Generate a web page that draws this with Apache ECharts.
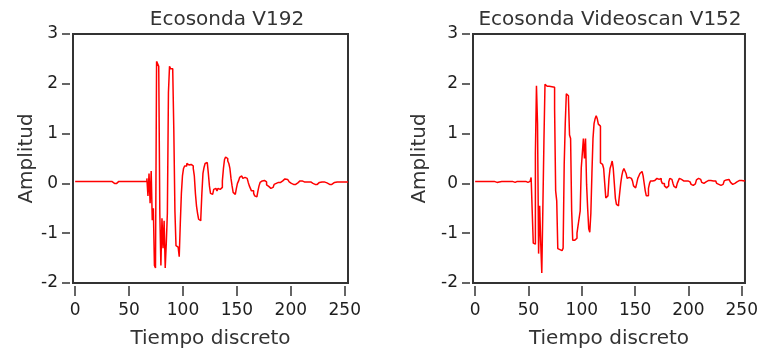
<!DOCTYPE html>
<html>
<head>
<meta charset="utf-8">
<script src="https://cdn.jsdelivr.net/npm/echarts@6/dist/echarts.min.js"></script>
<style>
  html, body { margin: 0; padding: 0; background: #fff; }
  #chart { width: 761px; height: 354px; }
</style>
</head>
<body>
<div id="chart"></div>
<script>
// amplitud por muestra (indice = tiempo discreto)
const ampV192 = [
  0.04, 0.04, 0.04, 0.04, 0.04, 0.04, 0.04, 0.04, 0.04, 0.04,
  0.04, 0.04, 0.04, 0.04, 0.04, 0.04, 0.04, 0.04, 0.04, 0.04,
  0.04, 0.04, 0.04, 0.04, 0.04, 0.04, 0.04, 0.04, 0.04, 0.04,
  0.04, 0.04, 0.04, 0.04, 0.04, 0.04, 0.0, -0.01, -0.01, 0.0,
  0.04, 0.04, 0.04, 0.04, 0.04, 0.04, 0.04, 0.04, 0.04, 0.04,
  0.04, 0.04, 0.04, 0.04, 0.04, 0.04, 0.04, 0.04, 0.04, 0.04,
  0.04, 0.04, 0.04, 0.04, 0.04, 0.04, 0.04, 0.1, -0.25, 0.2,
  -0.4, 0.25, -0.74, -0.5, -1.65, -1.7, 2.45, 2.4, 2.35, -0.6,
  -1.65, -0.7, -1.3, -0.75, -1.7, -1.2, -0.6, 1.83, 2.35, 2.3,
  2.3, 2.25, 1.04, -0.55, -1.25, -1.28, -1.3, -1.47, -0.8, -0.2,
  0.15, 0.3, 0.35, 0.35, 0.4, 0.37, 0.33, 0.38, 0.38, 0.35,
  0.3, 0.15, -0.2, -0.45, -0.6, -0.72, -0.75, -0.7, -0.2, 0.2,
  0.32, 0.4, 0.42, 0.4, 0.2, -0.05, -0.2, -0.22, -0.18, -0.12,
  -0.1, -0.12, -0.15, -0.1, -0.12, -0.12, -0.08, 0.05, 0.3, 0.48,
  0.53, 0.5, 0.45, 0.4, 0.3, 0.1, -0.05, -0.18, -0.22, -0.2,
  -0.1, 0.0, 0.05, 0.12, 0.15, 0.12, 0.1, 0.12, 0.08, 0.1,
  0.07, 0.02, -0.05, -0.1, -0.15, -0.15, -0.2, -0.25, -0.27, -0.25,
  -0.15, -0.05, 0.02, 0.05, 0.08, 0.07, 0.06, 0.03, -0.03, -0.06,
  -0.08, -0.1, -0.1, -0.08, -0.05, -0.02, 0.0, 0.01, 0.02, 0.0,
  0.02, 0.03, 0.05, 0.07, 0.08, 0.09, 0.08, 0.08, 0.06, 0.03,
  0.0, -0.02, -0.03, -0.02, -0.02, -0.01, 0.01, 0.03, 0.05, 0.06,
  0.06, 0.05, 0.04, 0.03, 0.03, 0.03, 0.02, 0.03, 0.03, 0.02,
  0.0, -0.01, -0.02, -0.02, -0.02, 0.0, 0.02, 0.03, 0.03, 0.03,
  0.02, 0.03, 0.03, 0.01, -0.01, -0.02, -0.02, -0.01, -0.02, 0.0,
  0.02, 0.03, 0.03, 0.03, 0.03, 0.03, 0.03, 0.03, 0.03, 0.03,
  0.03, 0.03, 0.03, 0.03
]

const ampV152 = [
  0.04, 0.04, 0.04, 0.04, 0.04, 0.04, 0.04, 0.04, 0.04, 0.04,
  0.04, 0.04, 0.04, 0.04, 0.04, 0.04, 0.04, 0.04, 0.04, 0.04,
  0.02, 0.0, 0.03, 0.04, 0.04, 0.04, 0.04, 0.04, 0.04, 0.04,
  0.04, 0.04, 0.04, 0.04, 0.04, 0.04, 0.04, 0.02, 0.04, 0.04,
  0.04, 0.04, 0.04, 0.04, 0.04, 0.04, 0.02, 0.04, 0.04, 0.03,
  0.02, 0.04, 0.04, 0.12, -0.55, -1.2, -1.22, 0.6, 1.96, 1.2,
  -1.41, -0.45, -1.2, -1.8, -0.5, 0.84, 1.99, 1.95, 1.95, 1.95,
  1.95, 1.94, 1.94, 1.93, 1.93, 1.5, -0.15, -0.35, -1.31, -1.33,
  -1.35, -1.35, -1.39, -1.3, 0.37, 1.2, 1.8, 1.76, 1.7, 0.97,
  0.9, -0.55, -1.14, -1.14, -1.15, -1.1, -1.0, -0.85, -0.7, -0.55,
  0.31, 0.3, 0.9, 0.5, 0.9, -0.02, -0.5, -0.91, -0.98, -0.6,
  0.2, 0.9, 1.2, 1.3, 1.36, 1.3, 1.19, 1.15, 0.41, 0.38,
  0.35, 0.3, 0.0, -0.29, -0.3, -0.25, 0.1, 0.3, 0.37, 0.45,
  0.3, 0.0, -0.3, -0.42, -0.45, -0.4, -0.2, 0.0, 0.15, 0.25,
  0.3, 0.25, 0.2, 0.1, 0.12, 0.08, 0.1, 0.07, 0.05, -0.05,
  -0.09, -0.1, 0.0, 0.1, 0.15, 0.2, 0.24, 0.24, 0.15, 0.0,
  -0.15, -0.25, -0.25, -0.1, 0.0, 0.05, 0.05, 0.04, 0.06, 0.05,
  0.05, 0.1, 0.08, 0.1, 0.1, 0.05, 0.0, 0.0, -0.05, -0.09,
  -0.09, -0.05, 0.03, 0.1, 0.11, 0.08, 0.0, -0.06, -0.09, -0.06,
  0.0, 0.05, 0.1, 0.11, 0.08, 0.05, 0.05, 0.06, 0.05, 0.04,
  0.05, 0.03, 0.01, -0.02, -0.04, -0.04, -0.01, 0.03, 0.07, 0.1,
  0.11, 0.08, 0.05, 0.02, 0.0, 0.0, 0.03, 0.05, 0.06, 0.06,
  0.06, 0.06, 0.06, 0.05, 0.06, 0.05, 0.02, 0.0, -0.02, -0.03,
  -0.04, -0.04, -0.02, 0.02, 0.05, 0.07, 0.08, 0.08, 0.08, 0.06,
  0.02, -0.02, -0.04, -0.03, 0.0, 0.03, 0.05, 0.06, 0.06, 0.06,
  0.06, 0.06, 0.05, 0.06
]

const xTicks = [0, 50, 100, 150, 200, 250]
const titles = ['Ecosonda V192', 'Ecosonda Videoscan V152']

const fontFam = 'DejaVu Sans'
const ink = '#1e1e1e'
const frame = '#333'

const toPoints = (arr) => arr.map((v, i) => [i, v])

const makeX = (idx) => ({
  type: 'value',
  gridIndex: idx,
  min: -2,
  max: 253,
  offset: 3,
  axisLine: { show: false, onZero: false },
  splitLine: { show: false },
  axisTick: { show: true, length: 10, customValues: xTicks, lineStyle: { color: frame, width: 1.5 } },
  axisLabel: { customValues: xTicks, fontFamily: fontFam, fontSize: 17, color: ink, margin: 16 },
  name: 'Tiempo discreto',
  nameLocation: 'middle',
  nameGap: 43,
  nameTextStyle: { fontFamily: fontFam, fontSize: 20, color: '#333' }
})

const makeY = (idx, gap) => ({
  type: 'value',
  gridIndex: idx,
  min: -2,
  max: 3,
  interval: 1,
  offset: 3,
  axisLine: { show: false, onZero: false },
  splitLine: { show: false },
  axisTick: { show: true, length: 8, lineStyle: { color: frame, width: 1.5 } },
  axisLabel: { fontFamily: fontFam, fontSize: 17, color: ink, margin: 12 },
  name: 'Amplitud',
  nameLocation: 'middle',
  nameGap: gap,
  nameTextStyle: { fontFamily: fontFam, fontSize: 20, color: '#333' }
})

const makeLine = (idx, arr) => ({
  type: 'line',
  xAxisIndex: idx,
  yAxisIndex: idx,
  data: toPoints(arr),
  step: 'middle',
  showSymbol: false,
  symbol: 'none',
  lineStyle: { color: '#ff0000', width: 1.5 }
})

const chart = echarts.init(document.getElementById('chart'))
chart.setOption({
  animation: false,
  backgroundColor: '#fff',
  graphic: [
    { type: 'text', x: 227, y: 20, style: { text: titles[0], fill: '#333', font: '20px "DejaVu Sans"', textAlign: 'center', textVerticalAlign: 'middle' } },
    { type: 'text', x: 610, y: 20, style: { text: titles[1], fill: '#333', font: '20px "DejaVu Sans"', textAlign: 'center', textVerticalAlign: 'middle' } }
  ],
  grid: [
    { left: 73, top: 34, width: 275, height: 253, show: true, borderColor: frame, borderWidth: 2 },
    { left: 473, top: 34, width: 277, height: 253, show: true, borderColor: frame, borderWidth: 2 }
  ],
  xAxis: [makeX(0), makeX(1)],
  yAxis: [makeY(0, 32), makeY(1, 40)],
  series: [makeLine(0, ampV192), makeLine(1, ampV152)]
})
</script>
</body>
</html>
